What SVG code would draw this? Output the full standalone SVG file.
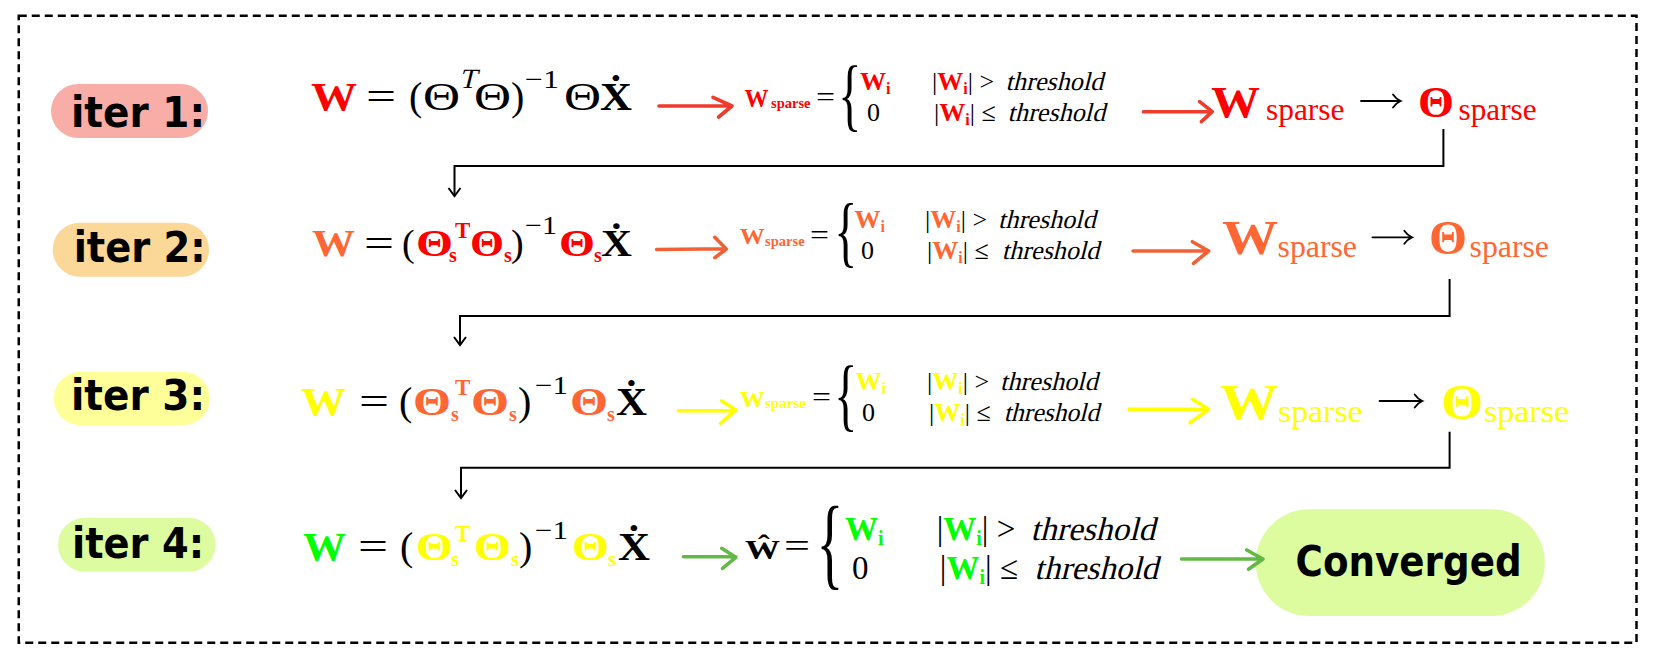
<svg xmlns="http://www.w3.org/2000/svg" width="1668" height="667" viewBox="0 0 1668 667">
<defs>
<style>
.m{font-family:"Liberation Serif","DejaVu Serif",serif;fill:#000}
.b{font-weight:bold}
.p{font-family:"DejaVu Sans",sans-serif;font-weight:bold;fill:#000;font-size:42px}
.conn{fill:none;stroke:#000;stroke-width:2}
.thin{fill:none;stroke:#000;stroke-width:1.8;stroke-linecap:round}
.ha{fill:none;stroke-width:3.6;stroke-linecap:round;stroke-linejoin:round}
.red{fill:#FF0000}.org{fill:#FF6633}.yel{fill:#FFFF00}.grn{fill:#00FF00}
.br{font-family:"Liberation Serif","DejaVu Serif",serif;fill:#000}
</style>
<marker id="ah" viewBox="-10 -10 20 20" markerWidth="20" markerHeight="20" refX="0" refY="0" orient="auto" markerUnits="userSpaceOnUse">
<path d="M-8,-6 L0,0 L-8,6" fill="none" stroke="#000" stroke-width="2"/>
</marker>
</defs>
<rect width="1668" height="667" fill="#fff"/>
<rect id="frame" x="18.75" y="15.7" width="1617.75" height="627" fill="none" stroke="#000" stroke-width="2.5" stroke-dasharray="8 5"/>

<g id="iter1"><rect x="51" y="84" width="157" height="54" rx="27" fill="#F8ADA6"/><text class="p" x="71" y="127" textLength="134" lengthAdjust="spacingAndGlyphs">iter 1:</text></g>
<g id="iter2"><rect x="52.7" y="222.7" width="156.3" height="54" rx="27" fill="#FCD898"/><text class="p" x="73.7" y="261.7" textLength="132" lengthAdjust="spacingAndGlyphs">iter 2:</text></g>
<g id="iter3"><rect x="53.6" y="371.7" width="156.2" height="53.6" rx="26.8" fill="#FFFF99"/><text class="p" x="71" y="410" textLength="134" lengthAdjust="spacingAndGlyphs">iter 3:</text></g>
<g id="iter4"><rect x="58" y="517.7" width="157.6" height="54" rx="27" fill="#DDFC9F"/><text class="p" x="72" y="558" textLength="132" lengthAdjust="spacingAndGlyphs">iter 4:</text></g>
<g id="converged"><rect x="1255.8" y="509.3" width="289" height="106.7" rx="53.3" fill="#DDFC9F"/><text class="p" x="1295.6" y="575.7" font-size="44" textLength="226" lengthAdjust="spacingAndGlyphs">Converged</text></g>

<g id="formula1">
<text class="m b red" x="311" y="110" font-size="40" textLength="46" lengthAdjust="spacingAndGlyphs">W</text>
<text class="m" x="366" y="110" font-size="40" textLength="30" lengthAdjust="spacingAndGlyphs">=</text>
<text class="m" x="409" y="110" font-size="40">(</text>
<text class="m" x="423" y="110" font-size="40" textLength="37" lengthAdjust="spacingAndGlyphs">Θ</text>
<text class="m" transform="translate(459 88) skewX(-14)" font-size="28">T</text>
<text class="m" x="474" y="110" font-size="40" textLength="37" lengthAdjust="spacingAndGlyphs">Θ</text>
<text class="m" x="511" y="110" font-size="40">)</text>
<text class="m" x="525" y="88" font-size="26" textLength="34" lengthAdjust="spacingAndGlyphs">−1</text>
<text class="m" x="564" y="110" font-size="40" textLength="37" lengthAdjust="spacingAndGlyphs">Θ</text>
<text class="m b" x="600" y="110" font-size="40" textLength="32" lengthAdjust="spacingAndGlyphs">Ẋ</text>
</g>
<g id="formula2">
<text class="m b org" x="312" y="256" font-size="38" textLength="43" lengthAdjust="spacingAndGlyphs">W</text>
<text class="m" x="364" y="256" font-size="38" textLength="30" lengthAdjust="spacingAndGlyphs">=</text>
<text class="m" x="402" y="256" font-size="38">(</text>
<text class="m b red" x="416" y="256" font-size="38" textLength="37" lengthAdjust="spacingAndGlyphs">Θ</text>
<text class="m b red" x="449" y="262" font-size="20">s</text>
<text class="m b red" x="455" y="238" font-size="23">T</text>
<text class="m b red" x="470" y="256" font-size="38" textLength="34" lengthAdjust="spacingAndGlyphs">Θ</text>
<text class="m b red" x="504" y="262" font-size="20">s</text>
<text class="m" x="511" y="256" font-size="38">)</text>
<text class="m" x="525" y="234" font-size="26" textLength="32" lengthAdjust="spacingAndGlyphs">−1</text>
<text class="m b red" x="559" y="256" font-size="38" textLength="36" lengthAdjust="spacingAndGlyphs">Θ</text>
<text class="m b red" x="594" y="262" font-size="20">s</text>
<text class="m b" x="601" y="256" font-size="38" textLength="31" lengthAdjust="spacingAndGlyphs">Ẋ</text>
</g>
<g id="formula3">
<text class="m b yel" x="301" y="415" font-size="40" textLength="45" lengthAdjust="spacingAndGlyphs">W</text>
<text class="m" x="359" y="415" font-size="40" textLength="30" lengthAdjust="spacingAndGlyphs">=</text>
<text class="m" x="399" y="415" font-size="40">(</text>
<text class="m b org" x="413" y="415" font-size="40" textLength="38" lengthAdjust="spacingAndGlyphs">Θ</text>
<text class="m b org" x="451" y="421" font-size="20">s</text>
<text class="m b org" x="455" y="395" font-size="23">T</text>
<text class="m b org" x="471" y="415" font-size="40" textLength="38" lengthAdjust="spacingAndGlyphs">Θ</text>
<text class="m b org" x="509" y="421" font-size="20">s</text>
<text class="m" x="518" y="415" font-size="40">)</text>
<text class="m" x="535" y="394" font-size="26" textLength="33" lengthAdjust="spacingAndGlyphs">−1</text>
<text class="m b org" x="570" y="415" font-size="40" textLength="38" lengthAdjust="spacingAndGlyphs">Θ</text>
<text class="m b org" x="607" y="421" font-size="20">s</text>
<text class="m b" x="616" y="415" font-size="40" textLength="31" lengthAdjust="spacingAndGlyphs">Ẋ</text>
</g>
<g id="formula4">
<text class="m b grn" x="303" y="560" font-size="40" textLength="43" lengthAdjust="spacingAndGlyphs">W</text>
<text class="m" x="358" y="560" font-size="40" textLength="30" lengthAdjust="spacingAndGlyphs">=</text>
<text class="m" x="400" y="560" font-size="40">(</text>
<text class="m b yel" x="416" y="560" font-size="40" textLength="37" lengthAdjust="spacingAndGlyphs">Θ</text>
<text class="m b yel" x="451" y="566" font-size="20">s</text>
<text class="m b yel" x="455" y="541" font-size="23">T</text>
<text class="m b yel" x="474" y="560" font-size="40" textLength="37" lengthAdjust="spacingAndGlyphs">Θ</text>
<text class="m b yel" x="511" y="566" font-size="20">s</text>
<text class="m" x="519" y="560" font-size="40">)</text>
<text class="m" x="535" y="539" font-size="26" textLength="33" lengthAdjust="spacingAndGlyphs">−1</text>
<text class="m b yel" x="572" y="560" font-size="40" textLength="37" lengthAdjust="spacingAndGlyphs">Θ</text>
<text class="m b yel" x="608" y="566" font-size="20">s</text>
<text class="m b" x="618" y="560" font-size="40" textLength="32" lengthAdjust="spacingAndGlyphs">Ẋ</text>
</g>

<g id="cases1">
<text class="m b red" x="744.6" y="106.7" font-size="25" textLength="24" lengthAdjust="spacingAndGlyphs">W</text>
<text class="m b red" x="771" y="108" font-size="14" textLength="39.5" lengthAdjust="spacingAndGlyphs">sparse</text>
<text class="m" x="816" y="106" font-size="28" textLength="19" lengthAdjust="spacingAndGlyphs">=</text>
<text class="br" transform="translate(838.2 120.9) scale(1 1.66)" font-size="48">{</text>
<text class="m" x="860" y="89.5" font-size="26"><tspan class="b red">W</tspan><tspan class="b red" font-size="16" dy="4">i</tspan></text>
<text class="m" x="932" y="89.5" font-size="26">|<tspan class="b red">W</tspan><tspan class="b red" font-size="16" dy="4">i</tspan><tspan dy="-4">| &gt;</tspan></text>
<text class="m" transform="translate(1005.6 89.5) skewX(-14)" font-size="26" textLength="97.4" lengthAdjust="spacingAndGlyphs">threshold</text>
<text class="m" x="867" y="121" font-size="26">0</text>
<text class="m" x="934" y="121" font-size="26">|<tspan class="b red">W</tspan><tspan class="b red" font-size="16" dy="4">i</tspan><tspan dy="-4">| ≤</tspan></text>
<text class="m" transform="translate(1007.5 121) skewX(-14)" font-size="26" textLength="97.5" lengthAdjust="spacingAndGlyphs">threshold</text>
</g>
<g id="sparse1">
<text class="m b red" x="1211" y="116.7" font-size="45" textLength="49" lengthAdjust="spacingAndGlyphs">W</text>
<text class="m red" x="1266" y="120" font-size="31" textLength="78.5" lengthAdjust="spacingAndGlyphs">sparse</text>
<text class="m b red" x="1418" y="117" font-size="45" textLength="36" lengthAdjust="spacingAndGlyphs">Θ</text>
<text class="m red" x="1458.6" y="120" font-size="31" textLength="78" lengthAdjust="spacingAndGlyphs">sparse</text>
</g>

<g id="cases2">
<text class="m b org" x="739.7" y="244.3" font-size="24" textLength="25" lengthAdjust="spacingAndGlyphs">W</text>
<text class="m b org" x="765" y="246" font-size="14" textLength="39.7" lengthAdjust="spacingAndGlyphs">sparse</text>
<text class="m" x="810" y="243.5" font-size="28" textLength="19" lengthAdjust="spacingAndGlyphs">=</text>
<text class="br" transform="translate(834.2 257.9) scale(1 1.65)" font-size="48">{</text>
<text class="m" x="854.5" y="228.3" font-size="26"><tspan class="b org">W</tspan><tspan class="b org" font-size="16" dy="4">i</tspan></text>
<text class="m" x="925" y="228.3" font-size="26">|<tspan class="b org">W</tspan><tspan class="b org" font-size="16" dy="4">i</tspan><tspan dy="-4">| &gt;</tspan></text>
<text class="m" transform="translate(998 228.3) skewX(-14)" font-size="26" textLength="97.5" lengthAdjust="spacingAndGlyphs">threshold</text>
<text class="m" x="861" y="259.3" font-size="26">0</text>
<text class="m" x="927" y="259.3" font-size="26">|<tspan class="b org">W</tspan><tspan class="b org" font-size="16" dy="4">i</tspan><tspan dy="-4">| ≤</tspan></text>
<text class="m" transform="translate(1001.8 259.3) skewX(-14)" font-size="26" textLength="97.2" lengthAdjust="spacingAndGlyphs">threshold</text>
</g>
<g id="sparse2">
<text class="m b org" x="1222" y="254" font-size="48" textLength="56" lengthAdjust="spacingAndGlyphs">W</text>
<text class="m org" x="1277.5" y="257.3" font-size="31" textLength="79.5" lengthAdjust="spacingAndGlyphs">sparse</text>
<text class="m b org" x="1429" y="254" font-size="48" textLength="38" lengthAdjust="spacingAndGlyphs">Θ</text>
<text class="m org" x="1469.5" y="257.3" font-size="31" textLength="79.5" lengthAdjust="spacingAndGlyphs">sparse</text>
</g>

<g id="cases3">
<text class="m b yel" x="739.7" y="406.7" font-size="24" textLength="25" lengthAdjust="spacingAndGlyphs">W</text>
<text class="m b yel" x="765" y="407.7" font-size="14" textLength="41" lengthAdjust="spacingAndGlyphs">sparse</text>
<text class="m" x="812" y="406" font-size="28" textLength="19" lengthAdjust="spacingAndGlyphs">=</text>
<text class="br" transform="translate(834.2 420.9) scale(1 1.66)" font-size="48">{</text>
<text class="m" x="855.6" y="390" font-size="26"><tspan class="b yel">W</tspan><tspan class="b yel" font-size="16" dy="4">i</tspan></text>
<text class="m" x="927" y="390" font-size="26">|<tspan class="b yel">W</tspan><tspan class="b yel" font-size="16" dy="4">i</tspan><tspan dy="-4">| &gt;</tspan></text>
<text class="m" transform="translate(999.9 390) skewX(-14)" font-size="26" textLength="97.6" lengthAdjust="spacingAndGlyphs">threshold</text>
<text class="m" x="862" y="421" font-size="26">0</text>
<text class="m" x="929" y="421" font-size="26">|<tspan class="b yel">W</tspan><tspan class="b yel" font-size="16" dy="4">i</tspan><tspan dy="-4">| ≤</tspan></text>
<text class="m" transform="translate(1003.7 421) skewX(-14)" font-size="26" textLength="95.3" lengthAdjust="spacingAndGlyphs">threshold</text>
</g>
<g id="sparse3">
<text class="m b yel" x="1220" y="419.3" font-size="51" textLength="58" lengthAdjust="spacingAndGlyphs">W</text>
<text class="m yel" x="1278" y="421.7" font-size="31" textLength="84.6" lengthAdjust="spacingAndGlyphs">sparse</text>
<text class="m b yel" x="1441" y="419.3" font-size="51" textLength="42" lengthAdjust="spacingAndGlyphs">Θ</text>
<text class="m yel" x="1484" y="421.7" font-size="31" textLength="85" lengthAdjust="spacingAndGlyphs">sparse</text>
</g>

<g id="cases4">
<text class="m b" x="745" y="559.3" font-size="28" textLength="35" lengthAdjust="spacingAndGlyphs">Ŵ</text>
<text class="m" x="784" y="556.8" font-size="34" textLength="26" lengthAdjust="spacingAndGlyphs">=</text>
<text class="br" transform="translate(816.4 576.4) scale(1 1.83)" font-size="56">{</text>
<text class="m" x="845" y="540" font-size="33"><tspan class="b grn">W</tspan><tspan class="b grn" font-size="20" dy="5">i</tspan></text>
<text class="m" x="936.7" y="540" font-size="33">|<tspan class="b grn">W</tspan><tspan class="b grn" font-size="20" dy="5">i</tspan><tspan dy="-5">| &gt;</tspan></text>
<text class="m" transform="translate(1030.5 540) skewX(-14)" font-size="33" textLength="124.5" lengthAdjust="spacingAndGlyphs">threshold</text>
<text class="m" x="852" y="579" font-size="33">0</text>
<text class="m" x="939.8" y="579" font-size="33">|<tspan class="b grn">W</tspan><tspan class="b grn" font-size="20" dy="5">i</tspan><tspan dy="-5">| ≤</tspan></text>
<text class="m" transform="translate(1034.3 579) skewX(-14)" font-size="33" textLength="123.7" lengthAdjust="spacingAndGlyphs">threshold</text>
</g>

<g id="connectors">
<path class="ha" stroke="#EE3B2B" d="M659 106 H732 M713 97.3 L732 106 L718.6 117"/>
<path class="ha" stroke="#EE3B2B" d="M1143.5 111.7 H1212 M1199.6 101.7 L1212.3 111.7 L1201.4 121.7"/>
<path class="ha" stroke="#F26135" d="M656.6 249.5 L726 248.8 M714.8 237.3 L726.3 249 L714.8 257.7"/>
<path class="ha" stroke="#F26135" d="M1133 251 H1208.7 M1192.4 241.7 L1208.7 251 L1193.5 263.3"/>
<path class="ha" stroke="#FFFF00" d="M678.4 410.7 H735.8 M721.7 401 L735.8 410 L720.5 423.3"/>
<path class="ha" stroke="#FFFF00" d="M1129 409.3 H1208.7 M1192.4 399.3 L1208.7 409.3 L1190 422.7"/>
<path class="ha" stroke="#63B946" d="M683.4 556.7 H735.8 M721.7 548.3 L735.8 557.3 L722.5 568.3"/>
<path class="ha" stroke="#63B946" d="M1181.5 559 H1263 M1246.7 550 L1263 559 L1248.5 569.3"/>
<path class="thin" d="M1361 101 H1400.5 M1393 94.5 Q1396 99 1400.7 101 Q1396 103 1393 107.5"/>
<path class="thin" d="M1372.4 237.3 H1411.8 M1404.3 230.8 Q1407.3 235.3 1412 237.3 Q1407.3 239.3 1404.3 243.8"/>
<path class="thin" d="M1379.6 401 H1422.2 M1414.7 394.5 Q1417.7 399 1422.4 401 Q1417.7 403 1414.7 407.5"/>
<path class="conn" marker-end="url(#ah)" d="M1443.4 129 V166 H454.5 V196"/>
<path class="conn" marker-end="url(#ah)" d="M1449.6 279 V316 H460 V345"/>
<path class="conn" marker-end="url(#ah)" d="M1449.6 431.7 V467.7 H461 V498"/>
</g>
</svg>
